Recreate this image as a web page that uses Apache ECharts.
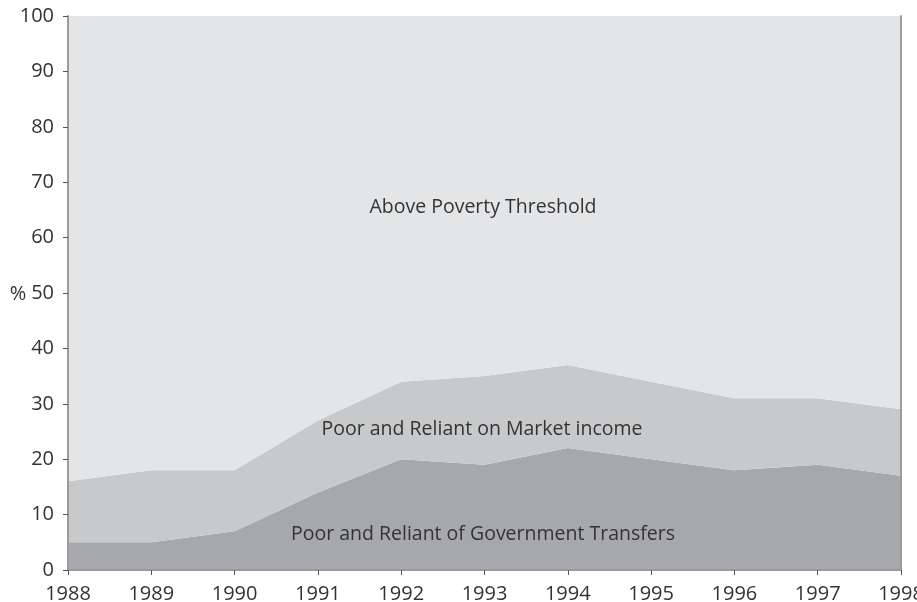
<!DOCTYPE html>
<html>
<head>
<meta charset="utf-8">
<script src="https://cdn.jsdelivr.net/npm/echarts@6/dist/echarts.min.js"></script>
<style>
  html, body { margin: 0; padding: 0; background: #fff; }
  #chart { width: 917px; height: 602px; }
</style>
</head>
<body>
<div id="chart"></div>
<script>
// Years on the x axis
const years = ['1988', '1989', '1990', '1991', '1992', '1993', '1994', '1995', '1996', '1997', '1998'];

// Stacked shares (%), bottom to top
const govTransfers = [5, 5, 7, 14, 20, 19, 22, 20, 18, 19, 17];
const marketIncome = [11, 13, 11, 13, 14, 16, 15, 14, 13, 12, 12];
const abovePoverty = [84, 82, 82, 73, 66, 65, 63, 66, 69, 69, 71];

const textColor = '#333';
const frameColor = '#9b9c9e';
const fontFamily = '"Open Sans", "Noto Sans", sans-serif';

function areaSeries(name, data, color) {
    return {
        name: name,
        type: 'line',
        stack: 'total',
        data: data,
        symbol: 'none',
        lineStyle: { width: 0 },
        areaStyle: { color: color, opacity: 1 },
        emphasis: { disabled: true },
        silent: true
    };
}

const chart = echarts.init(document.getElementById('chart'), null, { renderer: 'canvas' });

chart.setOption({
    animation: false,
    backgroundColor: '#fff',
    textStyle: { fontFamily: fontFamily },
    grid: { left: 68, right: 16, top: 16, bottom: 32, outerBoundsMode: 'none', containLabel: false },
    xAxis: [
        {
            type: 'category',
            data: years,
            boundaryGap: false,
            z: 5,
            axisLine: { lineStyle: { color: frameColor, width: 2 } },
            axisTick: { alignWithLabel: true, length: 5, lineStyle: { color: '#555', width: 1 } },
            axisLabel: { color: textColor, fontSize: 20, margin: 14, fontFamily: fontFamily, showMaxLabel: true, showMinLabel: true },
            splitLine: { show: false }
        },
        {
            type: 'category',
            data: years,
            position: 'top',
            boundaryGap: false,
            z: 5,
            axisLine: { lineStyle: { color: frameColor, width: 2 } },
            axisTick: { show: false },
            axisLabel: { show: false }
        }
    ],
    yAxis: [
        {
            type: 'value',
            min: 0,
            max: 100,
            interval: 10,
            z: 5,
            axisLine: { show: true, lineStyle: { color: frameColor, width: 2 } },
            axisTick: { show: true, length: 5, lineStyle: { color: '#555', width: 1 } },
            axisLabel: { color: textColor, fontSize: 20, margin: 14, fontFamily: fontFamily },
            splitLine: { show: false }
        },
        {
            type: 'value',
            min: 0,
            max: 100,
            position: 'right',
            z: 5,
            axisLine: { show: true, lineStyle: { color: frameColor, width: 2 } },
            axisTick: { show: false },
            axisLabel: { show: false },
            splitLine: { show: false }
        }
    ],
    series: [
        areaSeries('Poor and Reliant of Government Transfers', govTransfers, '#a7a8ab'),
        areaSeries('Poor and Reliant on Market income', marketIncome, '#c8c9cb'),
        areaSeries('Above Poverty Threshold', abovePoverty, '#e4e5e7')
    ],
    graphic: [
        {
            type: 'text', x: 18, y: 294, z: 10,
            style: { text: '%', fill: textColor, font: '20px ' + fontFamily, align: 'center', verticalAlign: 'middle' }
        },
        {
            type: 'text', x: 483, y: 207, z: 10,
            style: { text: 'Above Poverty Threshold', fill: textColor, font: '19.5px ' + fontFamily, align: 'center', verticalAlign: 'middle' }
        },
        {
            type: 'text', x: 482, y: 429, z: 10,
            style: { text: 'Poor and Reliant on Market income', fill: textColor, font: '19.5px ' + fontFamily, align: 'center', verticalAlign: 'middle' }
        },
        {
            type: 'text', x: 483, y: 534, z: 10,
            style: { text: 'Poor and Reliant of Government Transfers', fill: textColor, font: '19.5px ' + fontFamily, align: 'center', verticalAlign: 'middle' }
        }
    ]
});
</script>
</body>
</html>
